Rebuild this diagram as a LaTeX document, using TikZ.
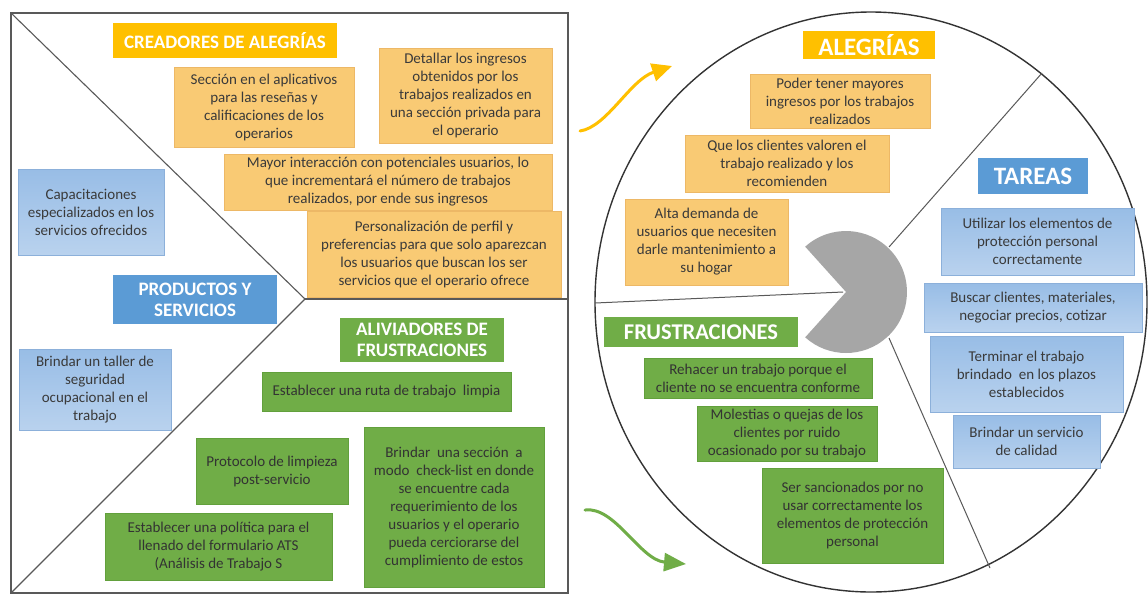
\documentclass[tikz,border=0pt]{standalone}
\usepackage{fontspec}
\setmainfont{Carlito}
\usetikzlibrary{arrows.meta}

\definecolor{gold}{HTML}{FFC000}
\definecolor{peach}{HTML}{F9CA74}
\definecolor{peachline}{HTML}{EDB866}
\definecolor{steel}{HTML}{5B9BD5}
\definecolor{skytop}{HTML}{98BDE6}
\definecolor{skybot}{HTML}{B9D2EE}
\definecolor{skyline}{HTML}{8CB0DA}
\definecolor{leaf}{HTML}{70AD47}
\definecolor{leafline}{HTML}{62A03C}
\definecolor{ink}{HTML}{3A3A3A}
\definecolor{rim}{HTML}{595959}
\definecolor{pac}{HTML}{A6A6A6}

\tikzset{
  sz/.style 2 args={minimum width=#1, minimum height=#2},
  cell/.style={rectangle, inner sep=0pt, align=center, text=ink,
               font=\fontsize{15}{18}\selectfont},
  peachbox/.style={cell, fill=peach, draw=peachline, line width=0.8pt},
  skybox/.style={cell, top color=skytop, bottom color=skybot, draw=skyline, line width=0.8pt},
  leafbox/.style={cell, fill=leaf, draw=leafline, line width=0.8pt, text=black!80},
  hdr/.style={rectangle, inner sep=0pt, align=center, text=white,
              font=\bfseries\fontsize{19}{21}\selectfont},
  bighdr/.style={hdr, font=\bfseries\fontsize{25}{27}\selectfont},
  frame/.style={draw=rim, line width=1.4pt},
  divider/.style={draw=rim, line width=1.1pt},
  ring/.style={draw=black!80, line width=1.4pt},
  spoke/.style={draw=black!65, line width=1pt},
  flow/.style={line width=3pt, line cap=round},
}

\begin{document}
\begin{tikzpicture}[x=1pt, y=-1pt]
\useasboundingbox (0,0) rectangle (1148,595);
\fill[white] (0,0) rectangle (1148,595);

% ---------- value map (square) ----------
\coordinate (sqTL) at (11,13);
\coordinate (sqBL) at (11,593);
\coordinate (hub)  at (305,299);
\coordinate (sqR)  at (568,299);
\draw[frame] (11,13) rectangle (568,593);
\draw[divider] (sqTL) -- (hub) -- (sqBL);
\draw[divider] (hub) -- (sqR);

% gain creators
\node[hdr, fill=gold, sz={224}{35}] (hCA) at (225,40.5) {CREADORES DE ALEGRÍAS};
\node[peachbox, sz={180}{80}] (sec) at (264,107)
  {Sección en el aplicativos\\para las reseñas y\\calificaciones de los\\operarios};
\node[peachbox, sz={173}{95}] (det) at (465.5,95.5)
  {Detallar los ingresos\\obtenidos por los\\trabajos realizados en\\una sección privada para\\el operario};
\node[peachbox, sz={328}{56}] (may) at (388,182)
  {Mayor interacción con potenciales usuarios, lo\\que incrementará el número de trabajos\\realizados, por ende sus ingresos};
\node[peachbox, sz={254}{86}] (per) at (434,254)
  {Personalización de perfil y\\preferencias para que solo aparezcan\\los usuarios que buscan los ser\\servicios que el operario ofrece};

% products and services
\node[skybox, sz={146}{86}] (cap) at (91,212)
  {Capacitaciones\\especializados en los\\servicios ofrecidos};
\node[hdr, fill=steel, sz={164}{49}] (hPS) at (195,299.5) {PRODUCTOS Y\\SERVICIOS};
\node[skybox, sz={152}{81}] (tal) at (95,389.5)
  {Brindar un taller de\\seguridad\\ocupacional en el\\trabajo};

% pain relievers
\node[hdr, fill=leaf, sz={164}{44}] (hAF) at (422,340) {ALIVIADORES DE\\FRUSTRACIONES};
\node[leafbox, sz={249}{39}] (ruta) at (386.5,391.5) {Establecer una ruta de trabajo\ \ limpia};
\node[leafbox, sz={152}{66}] (pro) at (272,471) {Protocolo de limpieza\\post-servicio};
\node[leafbox, sz={227}{67}] (pol) at (218.5,546.5)
  {Establecer una política para el\\llenado del formulario ATS\\(Análisis de Trabajo S};
\node[leafbox, sz={180}{160}] (chk) at (454,507)
  {Brindar\ \ una sección\ \ a\\modo\ \ check-list en donde\\se encuentre cada\\requerimiento de los\\usuarios y el operario\\pueda cerciorarse del\\cumplimiento de estos};

% ---------- customer profile (circle) ----------
\coordinate (rimNE) at (1042,73);
\coordinate (rimW)  at (595,303);
\coordinate (rimSE) at (990,568);
\coordinate (pacNE) at (889,247);
\coordinate (pacW)  at (843,292);
\coordinate (pacSE) at (889,338);
\draw[ring] (871,302) ellipse [x radius=276, y radius=290];
\draw[spoke] (pacNE) -- (rimNE);
\draw[spoke] (rimW) -- (pacW);
\draw[spoke] (pacSE) -- (rimSE);
\fill[pac] (846,292) -- ++(-132:61) arc[start angle=-132, end angle=132, radius=61] -- cycle;

% gains
\node[bighdr, fill=gold, sz={132}{28}] (hAl) at (869,45) {ALEGRÍAS};
\node[peachbox, sz={180}{54}] (pod) at (840,101)
  {Poder tener mayores\\ingresos por los trabajos\\realizados};
\node[peachbox, sz={204}{57}] (que) at (787,163.5)
  {Que los clientes valoren el\\trabajo realizado y los\\recomienden};
\node[peachbox, sz={163}{86}] (alt) at (706.5,242)
  {Alta demanda de\\usuarios que necesiten\\darle mantenimiento a\\su hogar};

% customer jobs
\node[bighdr, fill=steel, sz={110}{36}] (hTa) at (1033,176) {TAREAS};
\node[skybox, sz={193}{67}] (uti) at (1037.5,241.5)
  {Utilizar los elementos de\\protección personal\\correctamente};
\node[skybox, sz={218}{49}] (bus) at (1033,307.5)
  {Buscar clientes, materiales,\\negociar precios, cotizar};
\node[skybox, sz={193}{76}] (ter) at (1026.5,374)
  {Terminar el trabajo\\brindado\ \ en los plazos\\establecidos};
\node[skybox, sz={147}{53}] (bri) at (1026.5,441.5)
  {Brindar un servicio\\de calidad};

% pains
\node[hdr, fill=leaf, sz={194}{30}, font=\bfseries\fontsize{22.5}{24}\selectfont] (hFr) at (701,332) {FRUSTRACIONES};
\node[leafbox, sz={228}{40}] (reh) at (758,378)
  {Rehacer un trabajo porque el\\cliente no se encuentra conforme};
\node[leafbox, sz={180}{55}] (mol) at (787,433.5)
  {Molestias o quejas de los\\clientes por ruido\\ocasionado por su trabajo};
\node[leafbox, sz={181}{95}] (ser) at (852.5,515.5)
  {Ser sancionados por no\\usar correctamente los\\elementos de protección\\personal};

% ---------- fit arrows ----------
\coordinate (upFrom) at (580,131);
\coordinate (upTo)   at (672,66);
\coordinate (dnFrom) at (585,510);
\coordinate (dnTo)   at (686,564);
\draw[flow, draw=gold, -{Triangle[length=20pt, width=18pt]}]
  (upFrom) .. controls (607,127) and (630,80) .. (upTo);
\draw[flow, draw=leaf, -{Triangle[length=22pt, width=18pt]}]
  (dnFrom) .. controls (615,506) and (640,560) .. (dnTo);
\end{tikzpicture}
\end{document}
